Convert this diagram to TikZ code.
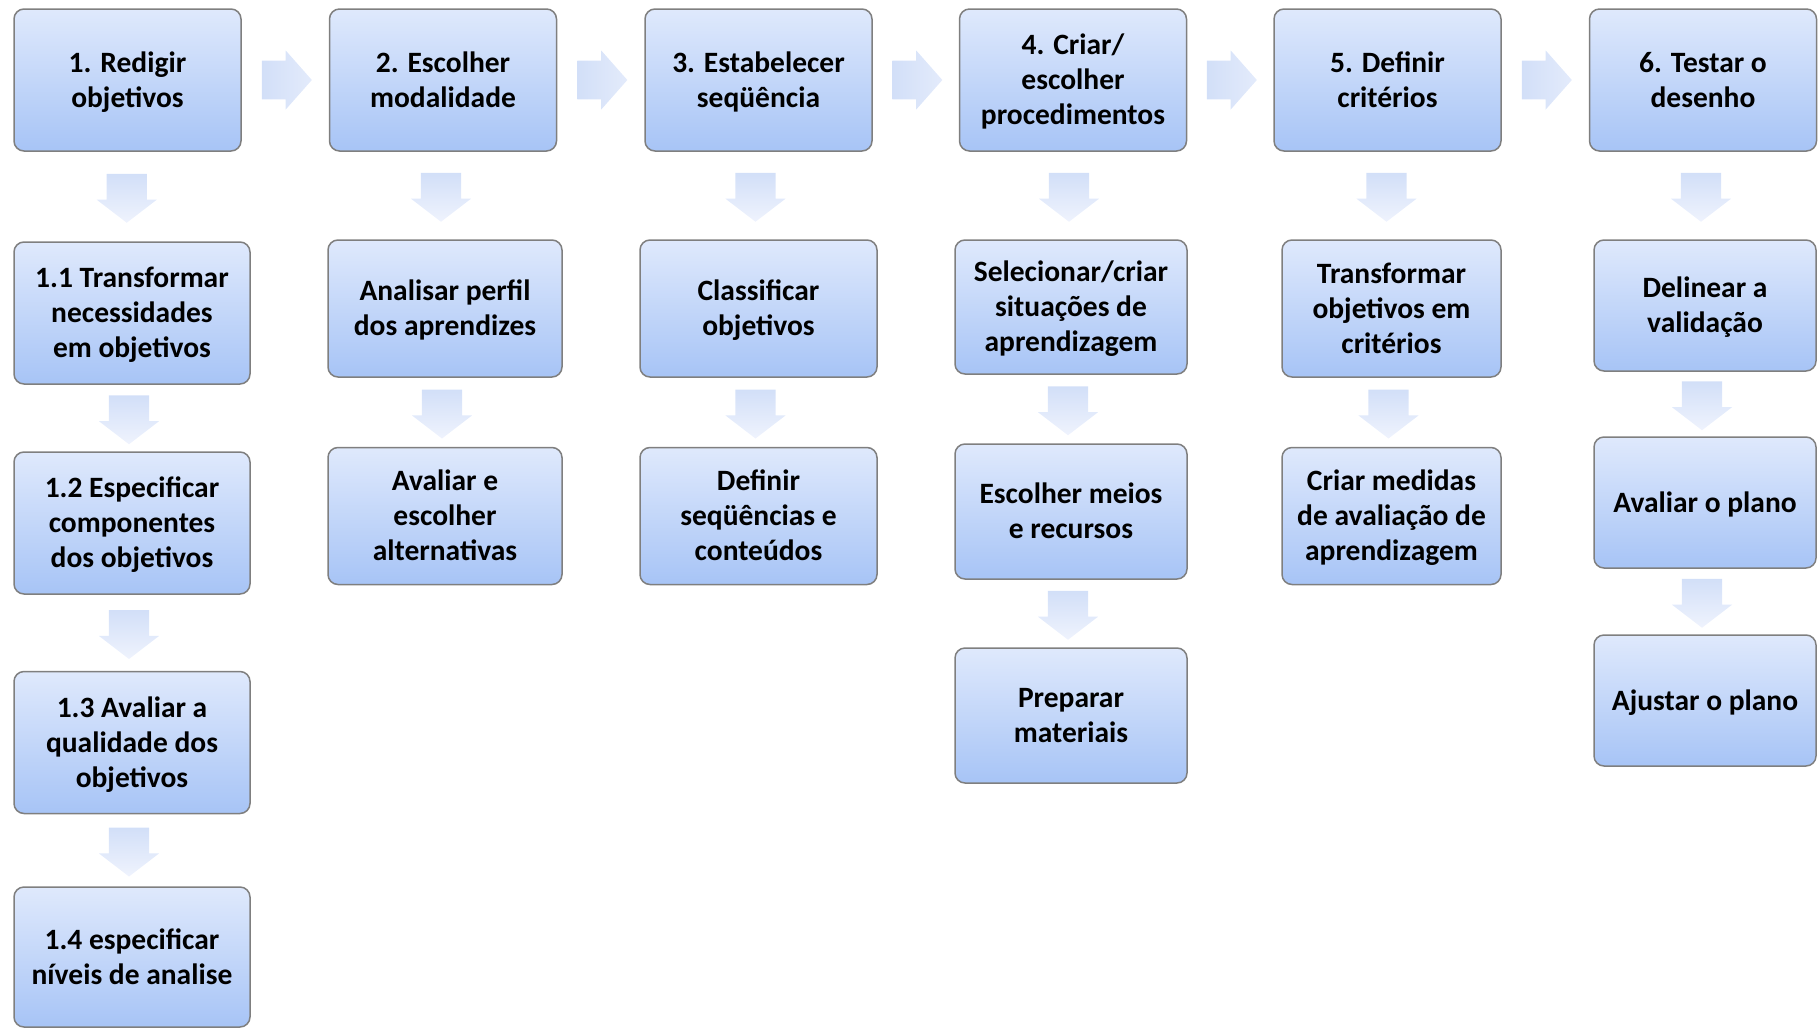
\documentclass[tikz,border=0pt]{standalone}
\usepackage{fontspec}
\setmainfont{Carlito}
\usetikzlibrary{shapes.arrows}
\definecolor{boxtop}{HTML}{DFE9FC}
\definecolor{boxbot}{HTML}{A7C4F6}
\definecolor{boxline}{HTML}{7F7F7F}
\definecolor{arrdark}{HTML}{D2DFF8}
\definecolor{arrlight}{HTML}{EFF3FD}
\tikzset{
  stepbox/.style={draw=boxline, line width=1.5pt, rounded corners=10pt,
    top color=boxtop, bottom color=boxbot, align=center, inner sep=0pt,
    font=\fontsize{29.5}{35}\selectfont\bfseries, text depth=1pt},
  downarr/.style={single arrow, shape border rotate=270, draw=none,
    top color=arrdark, bottom color=arrlight, inner xsep=20pt, inner ysep=1pt,
    minimum height=49pt, minimum width=60pt, single arrow head extend=10pt,
    single arrow tip angle=105, yshift=6pt, xshift=-3pt},
  rightarr/.style={single arrow, draw=none,
    left color=arrdark, right color=arrlight!60!arrdark, inner xsep=1pt, inner ysep=19pt,
    minimum height=50pt, minimum width=59pt, single arrow head extend=10pt,
    single arrow tip angle=97, xshift=-7pt}
}
\begin{document}
\begin{tikzpicture}[x=1pt,y=-1pt]
  \useasboundingbox (0,0) rectangle (1818,1028);
  % main steps
  \node[stepbox, minimum width=227pt, minimum height=142pt] (redigir) at (127.5,80) {1. Redigir\\objetivos};
  \node[stepbox, minimum width=227pt, minimum height=142pt] (escolher) at (443,80) {2. Escolher\\modalidade};
  \node[stepbox, minimum width=227pt, minimum height=142pt] (estab) at (758.5,80) {3. Estabelecer\\seqüência};
  \node[stepbox, minimum width=227pt, minimum height=142pt] (criar) at (1073,80) {4. Criar/\\escolher\\procedimentos};
  \node[stepbox, minimum width=227pt, minimum height=142pt] (definir) at (1387.5,80) {5. Definir\\critérios};
  \node[stepbox, minimum width=227pt, minimum height=142pt] (testar) at (1703,80) {6. Testar o\\desenho};

  % column 1
  \node[stepbox, minimum width=236pt, minimum height=142pt] (r1) at (132,313) {1.1 Transformar\\necessidades\\em objetivos};
  \node[stepbox, minimum width=236pt, minimum height=142pt] (r2) at (132,523) {1.2 Especificar\\componentes\\dos objetivos};
  \node[stepbox, minimum width=236pt, minimum height=142pt] (r3) at (132,742.5) {1.3 Avaliar a\\qualidade dos\\objetivos};
  \node[stepbox, minimum width=236pt, minimum height=140pt] (r4) at (132,957) {1.4 especificar\\níveis de analise};

  % column 2
  \node[stepbox, minimum width=234pt, minimum height=137pt] (e1) at (445,308.5) {Analisar perfil\\dos aprendizes};
  \node[stepbox, minimum width=234pt, minimum height=137pt] (e2) at (445,516) {Avaliar e\\escolher\\alternativas};

  % column 3
  \node[stepbox, minimum width=237pt, minimum height=137pt] (s1) at (758.5,308.5) {Classificar\\objetivos};
  \node[stepbox, minimum width=237pt, minimum height=137pt] (s2) at (758.5,516) {Definir\\seqüências e\\conteúdos};

  % column 4
  \node[stepbox, minimum width=232pt, minimum height=134pt] (c1) at (1071,307) {Selecionar/criar\\situações de\\aprendizagem};
  \node[stepbox, minimum width=232pt, minimum height=135pt] (c2) at (1071,511.5) {Escolher meios\\e recursos};
  \node[stepbox, minimum width=232pt, minimum height=135pt] (c3) at (1071,715.5) {Preparar\\materiais};

  % column 5
  \node[stepbox, minimum width=219pt, minimum height=137pt] (d1) at (1391.5,308.5) {Transformar\\objetivos em\\critérios};
  \node[stepbox, minimum width=219pt, minimum height=137pt] (d2) at (1391.5,516) {Criar medidas\\de avaliação de\\aprendizagem};

  % column 6
  \node[stepbox, minimum width=222pt, minimum height=131pt] (t1) at (1705,305.5) {Delinear a\\validação};
  \node[stepbox, minimum width=222pt, minimum height=131pt] (t2) at (1705,502.5) {Avaliar o plano};
  \node[stepbox, minimum width=222pt, minimum height=131pt] (t3) at (1705,700.5) {Ajustar o plano};

  % block arrows
  \foreach \a/\b in {redigir/escolher, escolher/estab, estab/criar, criar/definir, definir/testar}
    \path (\a) -- (\b) node[midway, rightarr] {};
  \foreach \a/\b in {redigir/r1, r1/r2, r2/r3, r3/r4, escolher/e1, e1/e2, estab/s1, s1/s2,
                     criar/c1, c1/c2, c2/c3, definir/d1, d1/d2, testar/t1, t1/t2, t2/t3}
    \path (\a.south) -- (\b.north) node[midway, downarr] {};
\end{tikzpicture}
\end{document}
